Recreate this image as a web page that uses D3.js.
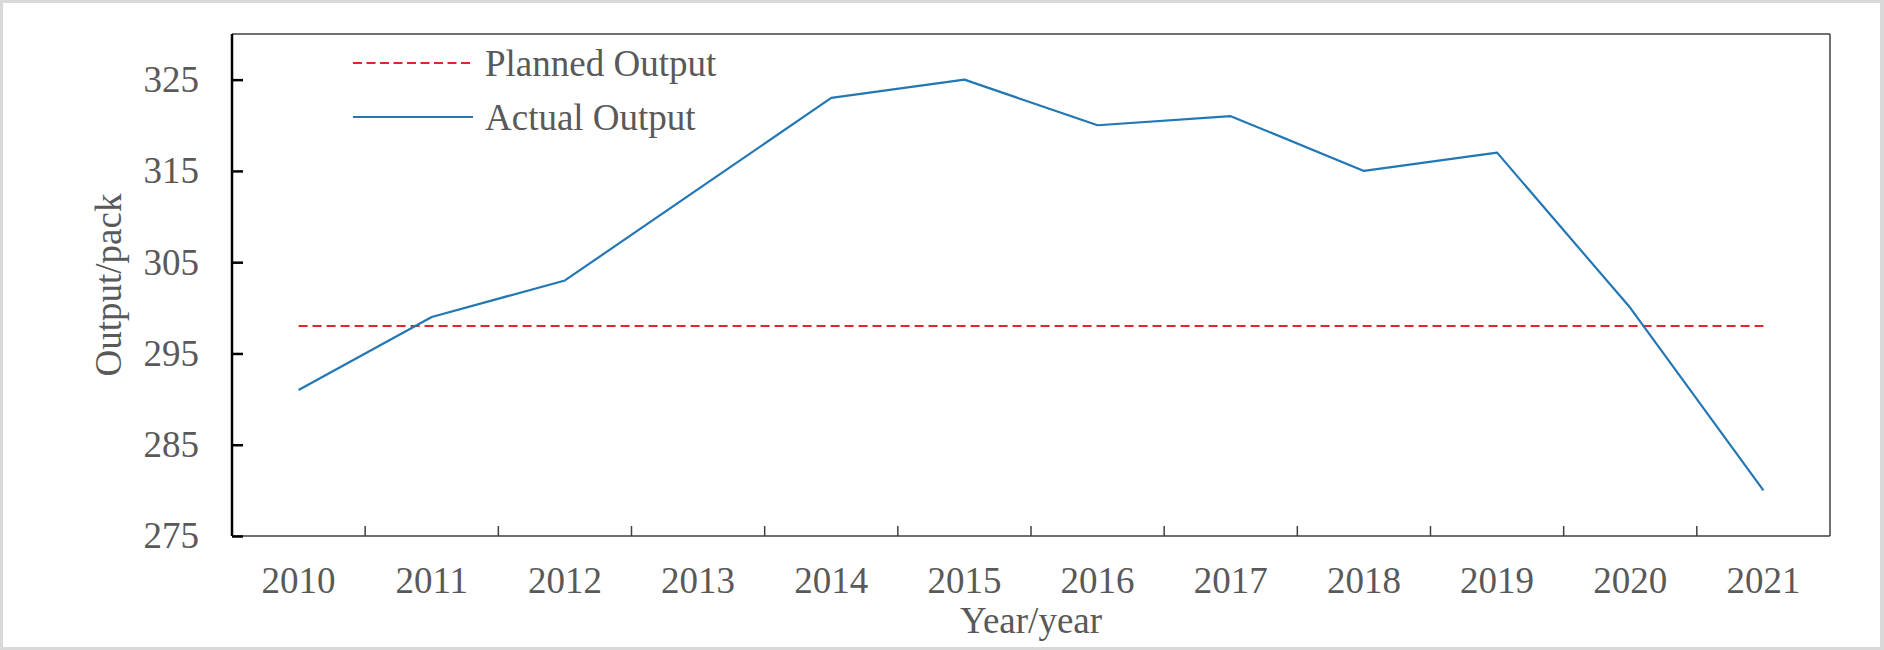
<!DOCTYPE html>
<html>
<head>
<meta charset="utf-8">
<script src="https://cdn.jsdelivr.net/npm/d3@7"></script>
<style>
  html, body { margin: 0; padding: 0; background: #d9d9d9; }
  svg { display: block; }
  text { font-family: "Liberation Serif", "Times New Roman", serif; fill: #595959; }
</style>
</head>
<body>
<svg id="chart" width="1884" height="650"></svg>
<script>
const years = ["2010","2011","2012","2013","2014","2015","2016","2017","2018","2019","2020","2021"];
const actualOutput = [291, 299, 303, 313, 323, 325, 320, 321, 315, 317, 300, 280];
const plannedOutput = [298, 298, 298, 298, 298, 298, 298, 298, 298, 298, 298, 298];
const yTicks = [275, 285, 295, 305, 315, 325];
const seriesNames = ["Planned Output", "Actual Output"];

const W = 1884, H = 650;
const margin = { left: 232, top: 34, right: 1830, bottom: 536 };
const FS = 37;

const svg = d3.select("#chart");
svg.append("rect").attr("x", 3).attr("y", 3).attr("width", W - 7).attr("height", H - 6).attr("fill", "#fff");

const x = d3.scaleBand().domain(years).range([margin.left, margin.right]).paddingInner(0).paddingOuter(0);
const y = d3.scaleLinear().domain([275, 330]).range([margin.bottom, margin.top]);

// frame top & right
svg.append("line").attr("x1", margin.left).attr("x2", margin.right).attr("y1", margin.top).attr("y2", margin.top)
  .attr("stroke", "#404040").attr("stroke-width", 1.5);
svg.append("line").attr("x1", margin.right).attr("x2", margin.right).attr("y1", margin.top).attr("y2", margin.bottom)
  .attr("stroke", "#404040").attr("stroke-width", 1.5);

// x axis
const xAxisG = svg.append("g").attr("transform", `translate(0,${margin.bottom})`);
xAxisG.append("line").attr("x1", margin.left).attr("x2", margin.right).attr("y1", 0).attr("y2", 0)
  .attr("stroke", "#404040").attr("stroke-width", 1.5);
xAxisG.selectAll("line.tick").data(years.slice(1)).enter().append("line")
  .attr("x1", d => x(d)).attr("x2", d => x(d)).attr("y1", 0).attr("y2", -10)
  .attr("stroke", "#404040").attr("stroke-width", 1.5);
xAxisG.selectAll("text.lbl").data(years).enter().append("text")
  .attr("x", d => x(d) + x.bandwidth() / 2).attr("y", 57)
  .attr("text-anchor", "middle").attr("font-size", FS).text(d => d);

// y axis
const yAxis = d3.axisLeft(y).tickValues(yTicks).tickSize(-11).tickPadding(33).tickFormat(d3.format("d"));
const yAxisG = svg.append("g").attr("transform", `translate(${margin.left},0)`).call(yAxis);
yAxisG.select(".domain").remove();
yAxisG.append("line").attr("x1", 0).attr("x2", 0).attr("y1", margin.top).attr("y2", margin.bottom)
  .attr("stroke", "#000").attr("stroke-width", 2.5);
yAxisG.selectAll(".tick line").attr("stroke", "#000").attr("stroke-width", 2.5);
yAxisG.selectAll(".tick text").attr("font-size", FS).attr("fill", "#595959")
  .attr("font-family", "Liberation Serif, Times New Roman, serif");

// axis titles
svg.append("text").attr("x", (margin.left + margin.right) / 2).attr("y", 633)
  .attr("text-anchor", "middle").attr("font-size", FS).text("Year/year");
svg.append("text").attr("transform", `translate(121,${(margin.top + margin.bottom) / 2}) rotate(-90)`)
  .attr("text-anchor", "middle").attr("font-size", FS).text("Output/pack");

// lines
const line = d3.line().x((d, i) => x(years[i]) + x.bandwidth() / 2).y(d => y(d));
svg.append("path").datum(plannedOutput).attr("d", line).attr("fill", "none")
  .attr("stroke", "#e0262b").attr("stroke-width", 2).attr("stroke-dasharray", "9,5");
svg.append("path").datum(actualOutput).attr("d", line).attr("fill", "none")
  .attr("stroke", "#2277b4").attr("stroke-width", 2.2).attr("stroke-linejoin", "round");

// legend
const legend = svg.append("g");
const legendStyles = [
  { color: "#e0262b", dash: "9,4.5", yy: 63 },
  { color: "#2277b4", dash: null, yy: 117 }
];
seriesNames.forEach((name, i) => {
  const s = legendStyles[i];
  legend.append("line").attr("x1", 353).attr("x2", 473).attr("y1", s.yy).attr("y2", s.yy)
    .attr("stroke", s.color).attr("stroke-width", 2.2).attr("stroke-dasharray", s.dash);
  legend.append("text").attr("x", 485).attr("y", s.yy).attr("dy", "0.35em")
    .attr("font-size", FS).text(name);
});
</script>
</body>
</html>
